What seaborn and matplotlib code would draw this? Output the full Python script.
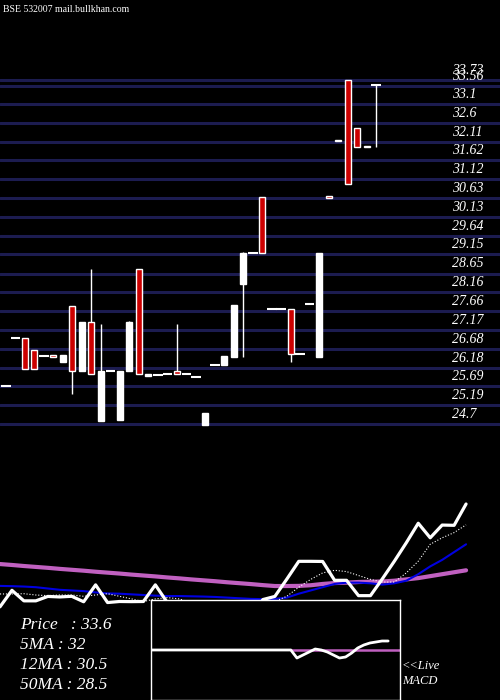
import numpy as np
import pandas as pd
import matplotlib
matplotlib.use("Agg")
import matplotlib.pyplot as plt
import seaborn as sns

opens  = [25.69,26.96,26.96,26.65,26.49,26.50,26.34,27.80,26.08,27.38,24.79,26.09,24.80,26.08,28.76,
          25.95,25.99,26.01,26.08,26.02,25.94,24.68,26.25,26.24,26.47,28.37,29.19,30.65,27.73,27.73,
          27.73,26.55,27.85,26.45,30.68,32.16,33.72,32.48,32.00,33.60]
closes = [25.69,26.96,26.15,26.15,26.49,26.45,26.50,26.08,27.38,26.02,26.10,26.09,26.10,27.38,26.02,
          26.00,25.99,26.01,26.01,26.02,25.94,25.00,26.25,26.49,27.82,29.19,29.19,29.18,27.73,27.73,
          26.55,26.55,27.85,29.20,30.62,32.12,31.00,31.98,31.96,33.60]
highs  = [25.69,26.96,26.96,26.65,26.49,26.50,26.50,27.80,27.38,28.77,27.32,26.09,26.10,27.40,28.76,
          26.00,25.99,26.01,27.32,26.02,25.94,25.00,26.25,26.49,27.82,29.22,29.19,30.65,27.73,27.73,
          27.73,26.55,27.85,29.20,30.68,32.16,33.72,32.48,32.00,33.60]
lows   = [25.69,26.96,26.15,26.15,26.49,26.45,26.34,25.50,26.08,26.02,24.79,26.09,24.80,26.08,26.02,
          25.95,25.99,26.01,26.01,26.02,25.94,24.68,26.25,26.24,26.47,26.47,29.19,29.18,27.73,27.73,
          26.33,26.55,27.85,26.45,30.62,32.12,31.00,31.98,31.96,31.98]
ma5  = [26.68,26.68,26.70,26.60,26.55,26.60,26.60,26.50,26.60,26.70,26.50,26.30,26.10,26.30,26.40,
        26.30,26.00,25.90,25.90,25.90,25.90,25.70,25.80,26.10,26.50,27.20,27.80,28.30,28.50,28.40,
        28.10,27.80,27.60,27.60,28.30,29.20,30.50,31.00,31.40,32.00]
ma12 = [27.30,27.28,27.25,27.20,27.10,27.00,26.95,26.90,26.80,26.72,26.70,26.65,26.60,26.55,26.52,
        26.52,26.50,26.48,26.45,26.40,26.35,26.30,26.28,26.30,26.40,26.70,26.95,27.20,27.45,27.55,
        27.55,27.50,27.40,27.50,27.70,28.20,28.80,29.30,29.90,30.50]
ma50 = [28.98,28.91,28.83,28.76,28.69,28.61,28.54,28.47,28.39,28.32,28.25,28.17,28.10,28.03,27.95,
        27.88,27.80,27.73,27.66,27.58,27.51,27.44,27.36,27.29,27.29,27.30,27.35,27.45,27.52,27.55,
        27.60,27.62,27.64,27.70,27.80,27.90,28.05,28.20,28.35,28.50]
macd = [0]*24 + [-8,-5,-2,1,0,-2,-5,-8,-7,-3,2,5,7,8,9,9]
grid_levels = [33.73,33.56,33.1,32.6,32.11,31.62,31.12,30.63,30.13,29.64,29.15,28.65,28.16,
               27.66,27.17,26.68,26.18,25.69,25.19,24.7]
grid_labels = ["33.73","33.56","33.1","32.6","32.11","31.62","31.12","30.63","30.13","29.64",
               "29.15","28.65","28.16","27.66","27.17","26.68","26.18","25.69","25.19","24.7"]
info_labels = ["Price   : 33.6", "5MA : 32", "12MA : 30.5", "50MA : 28.5"]
title = "BSE 532007 mail.bullkhan.com"

sns.set_theme(style="dark", rc={"axes.facecolor": "black", "figure.facecolor": "black"})
serif = dict(family="Liberation Serif", style="italic", color="white")

fig = plt.figure(figsize=(5, 7), dpi=100)
n = len(opens)
idx = np.arange(n)

# price panel
ax = fig.add_axes([0, 0, 1, 1])
ax.set_xlim(-0.632, 52.05)
ax.set_ylim(24.7 - 276 / 38.1, 24.7 + 424 / 38.1)
ax.axis("off")
for g in grid_levels:
    ax.axhline(g, color="#1c1c50", lw=2.2, zorder=1)
for g, lab in zip(grid_levels, grid_labels):
    ax.text(47.0, g + 0.08, lab, fontsize=10, va="bottom", ha="left", **serif)
o = np.array(opens); c = np.array(closes)
down = o > c
w = 0.63
ax.vlines(idx, lows, highs, color="white", lw=1, zorder=2)
for i in range(n):
    if o[i] == c[i]:
        ax.hlines(o[i], i - w * 0.8, i + w * 0.8, color="white", lw=1.5, zorder=3)
    else:
        ax.bar(i, abs(c[i] - o[i]), bottom=min(o[i], c[i]), width=w,
               color="#cc0000" if down[i] else "white", edgecolor="white", lw=1, zorder=3)
ax.text(0.006, 0.993, title, transform=ax.transAxes, fontsize=7, va="top",
        family="Liberation Serif", color="white")

# MA panel
ax2 = fig.add_axes([0, 0, 1, 1])
ax2.patch.set_alpha(0)
df = pd.DataFrame({"i": idx, "close": closes, "ma5": ma5, "ma12": ma12, "ma50": ma50})
sns.lineplot(data=df, x="i", y="ma50", ax=ax2, color="#c060c0", lw=3)
sns.lineplot(data=df, x="i", y="ma12", ax=ax2, color="#0000e0", lw=1.5)
sns.lineplot(data=df, x="i", y="ma5", ax=ax2, color="white", lw=0.8, linestyle=":")
sns.lineplot(data=df, x="i", y="close", ax=ax2, color="white", lw=2.3)
ax2.set_xlim(0, 41.84)
ax2.set_ylim(33.6 - 196 / 13, 33.6 + 504 / 13)
ax2.axis("off")
for k, lab in enumerate(info_labels):
    ax2.text(20 / 500, (700 - 625 - 20 * k) / 700, lab, transform=ax2.transAxes,
             fontsize=12.5, va="center", **serif)
ax2.text(402 / 500, 34 / 700, "<<Live", transform=ax2.transAxes, fontsize=9, va="center", **serif)
ax2.text(402 / 500, 19 / 700, "MACD", transform=ax2.transAxes, fontsize=9, va="center", **serif)

# MACD box
ax3 = fig.add_axes([151 / 500, 0, 249 / 500, 100 / 700])
ax3.set_facecolor("black")
ax3.axhline(0, xmin=23 / 40.95, xmax=1, color="#c060c0", lw=1.8)
sns.lineplot(x=idx, y=macd, ax=ax3, color="white", lw=2)
ax3.set_xlim(0, 40.95)
ax3.set_ylim(-50, 50)
ax3.set_xticks([]); ax3.set_yticks([])
ax3.set_xlabel(""); ax3.set_ylabel("")
for s in ax3.spines.values():
    s.set_visible(True); s.set_color("white"); s.set_linewidth(1)

fig.savefig("out.png", dpi=100, facecolor="black")
